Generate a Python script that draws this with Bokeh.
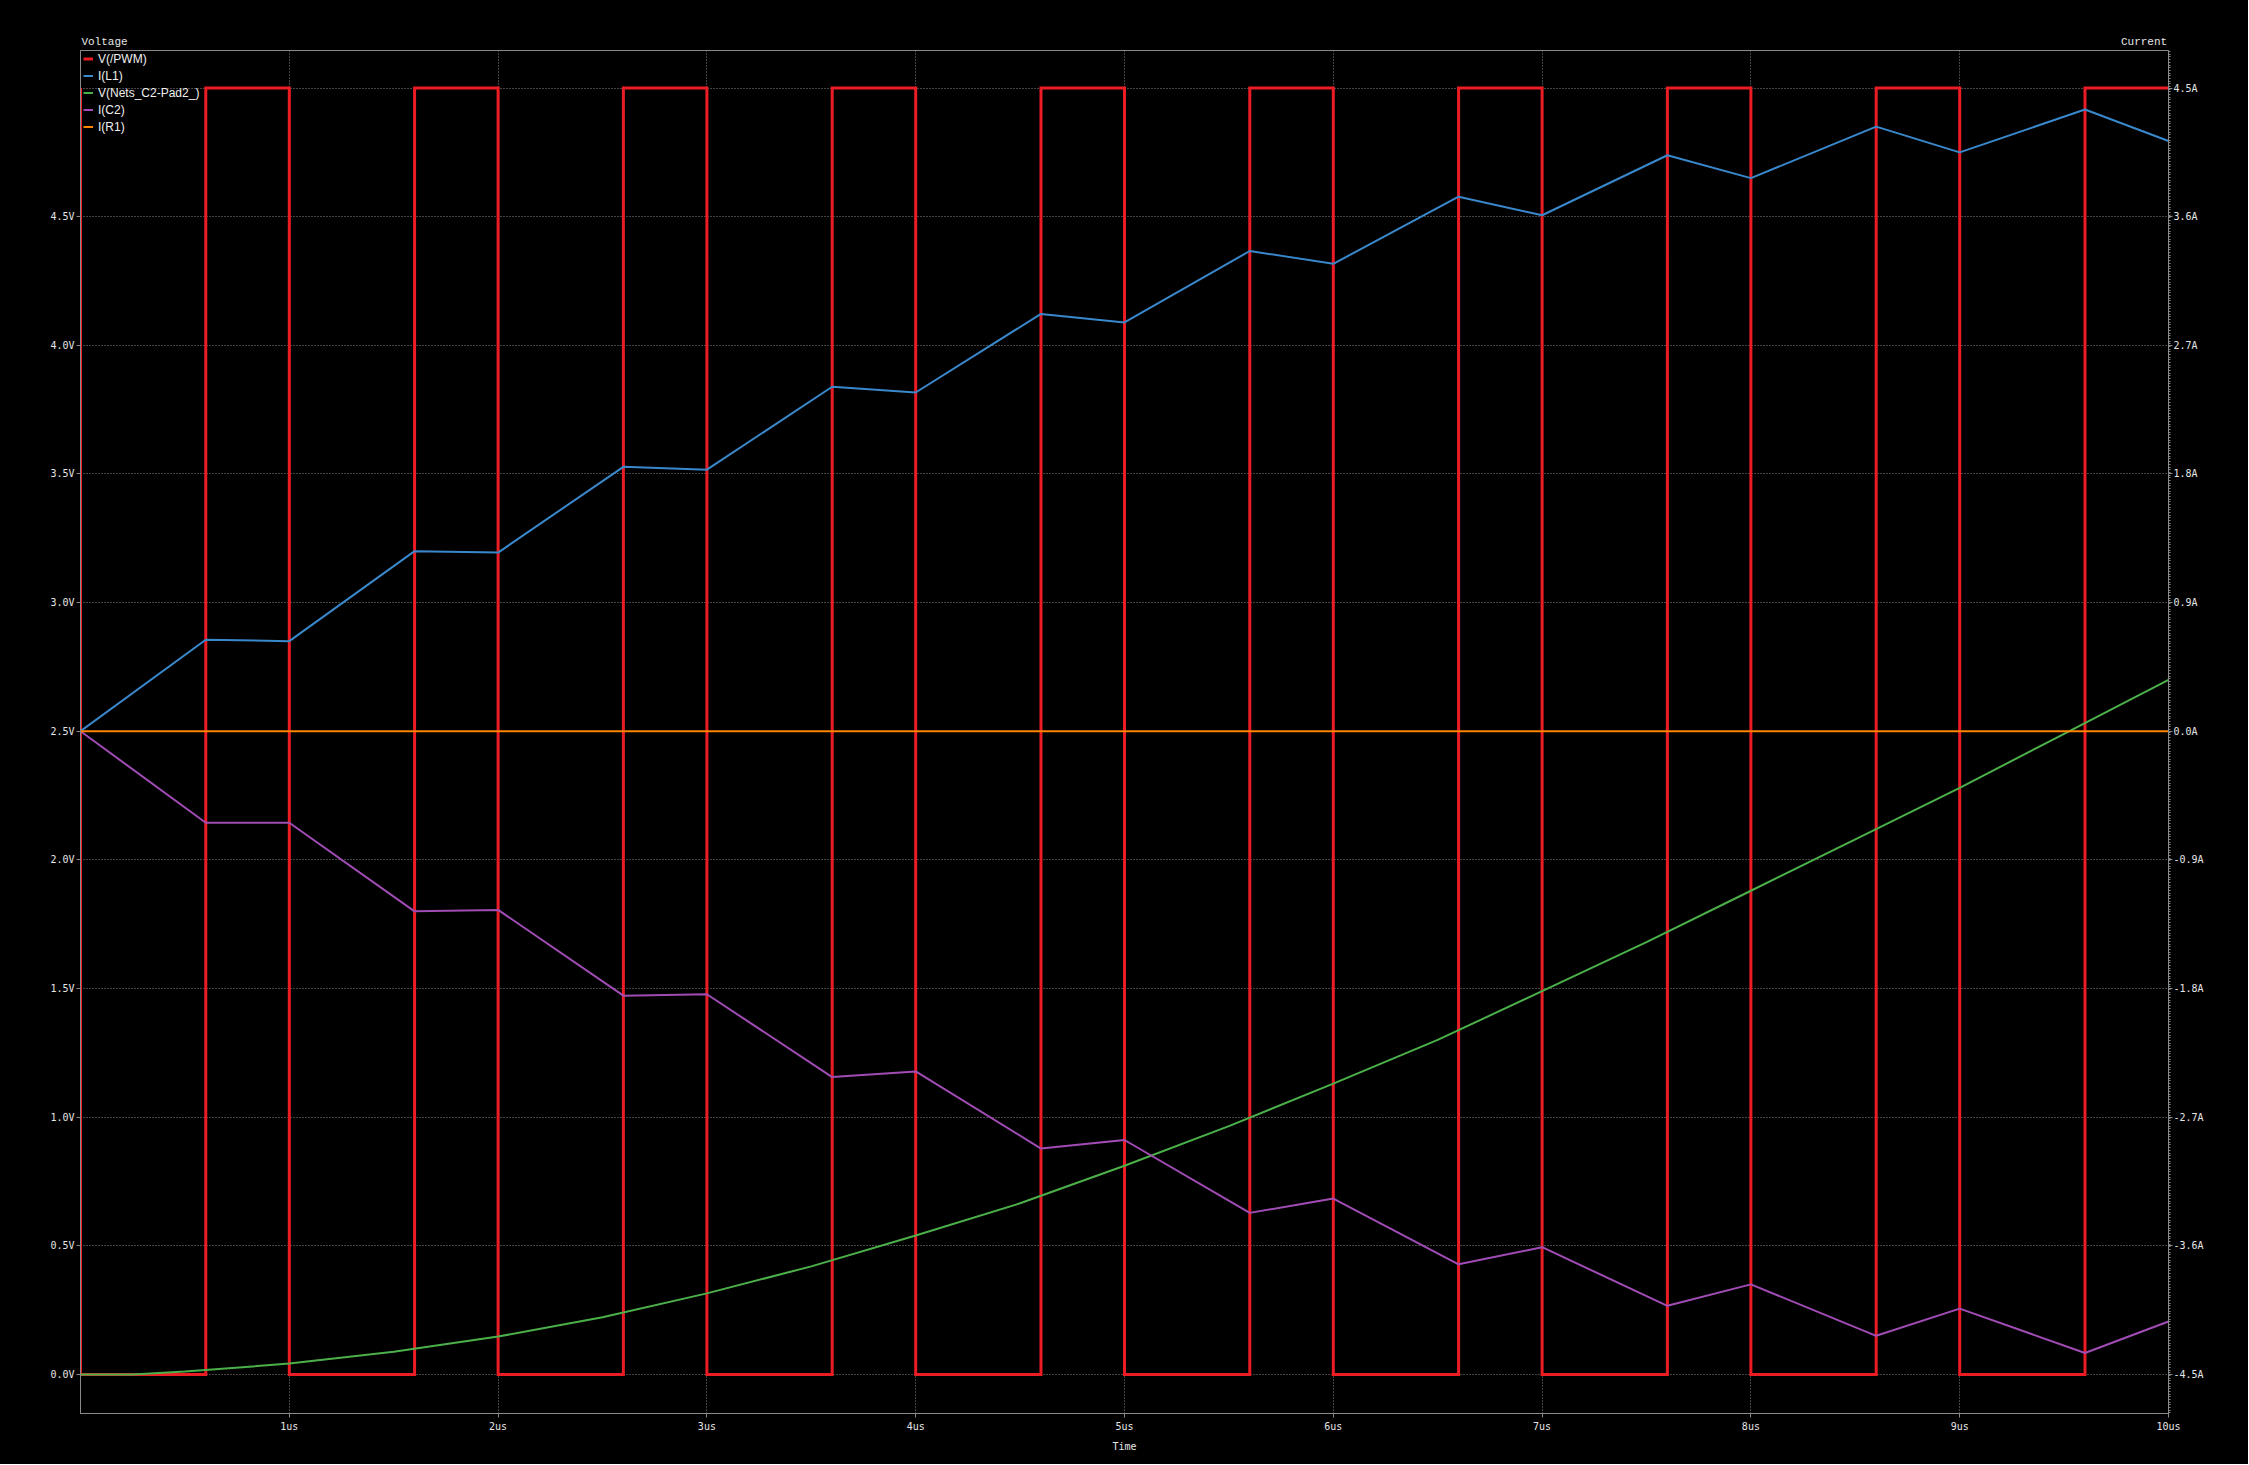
from bokeh.plotting import figure
from bokeh.models import (Range1d, LinearAxis, FixedTicker, PrintfTickFormatter,
                          Legend, LegendItem)
from bokeh.embed import file_html
from bokeh.resources import INLINE
import numpy as np

# ---------------- data ----------------
# PWM square wave (V): starts at 5 V at t=0, then edges
pwm_high = 5.0
pwm_low = 0.0
pwm_rise = [0.6, 1.6, 2.6, 3.6, 4.6, 5.6, 6.6, 7.6, 8.6, 9.6]
pwm_fall = [1.0, 2.0, 3.0, 4.0, 5.0, 6.0, 7.0, 8.0, 9.0]

# inductor / capacitor currents (A) at switching instants
t_sw = [0.0, 0.6, 1.0, 1.6, 2.0, 2.6, 3.0, 3.6, 4.0, 4.6, 5.0,
        5.6, 6.0, 6.6, 7.0, 7.6, 8.0, 8.6, 9.0, 9.6, 10.0]
i_l1 = [0.0, 0.64, 0.63, 1.26, 1.25, 1.85, 1.83, 2.41, 2.37, 2.92, 2.86,
        3.36, 3.27, 3.74, 3.61, 4.03, 3.87, 4.23, 4.05, 4.35, 4.13]
i_c2 = [0.0, -0.64, -0.64, -1.26, -1.25, -1.85, -1.84, -2.42, -2.38, -2.92, -2.86,
        -3.37, -3.27, -3.73, -3.61, -4.02, -3.87, -4.23, -4.04, -4.35, -4.13]

# capacitor node voltage (V)
t_v = [0.0, 0.25, 0.5, 1.0, 1.5, 2.0, 2.5, 3.0, 3.5, 4.0, 4.5, 5.0,
       5.5, 6.0, 6.5, 7.0, 7.5, 8.0, 8.5, 9.0, 9.5, 10.0]
v_c2 = [0.0, 0.0, 0.011, 0.042, 0.088, 0.147, 0.222, 0.315, 0.42, 0.54, 0.665, 0.811,
        0.965, 1.13, 1.30, 1.49, 1.68, 1.88, 2.08, 2.28, 2.49, 2.70]

# resistor current (A)
t_r1 = [0.0, 10.0]
i_r1 = [0.0, 0.0]

# tick labels
x_ticks = [1, 2, 3, 4, 5, 6, 7, 8, 9, 10]
v_ticks = [0.0, 0.5, 1.0, 1.5, 2.0, 2.5, 3.0, 3.5, 4.0, 4.5]
grid_v = [0.0, 0.5, 1.0, 1.5, 2.0, 2.5, 3.0, 3.5, 4.0, 4.5, 5.0]
a_ticks = [-4.5, -3.6, -2.7, -1.8, -0.9, 0.0, 0.9, 1.8, 2.7, 3.6, 4.5]
axis_titles = {0.115: "Voltage", 9.883: "Current"}

# build PWM step polyline
pwm_t = [0.0, 0.0]
pwm_v = [pwm_high, pwm_low]
for k, r in enumerate(pwm_rise):
    pwm_t += [r, r]
    pwm_v += [pwm_low, pwm_high]
    if k < len(pwm_fall):
        f = pwm_fall[k]
        pwm_t += [f, f]
        pwm_v += [pwm_high, pwm_low]
pwm_t.append(10.0)
pwm_v.append(pwm_high)

# ---------------- figure ----------------
V_MIN, V_MAX = -0.152, 5.146
A_MIN, A_MAX = (V_MIN - 2.5) * 1.8, (V_MAX - 2.5) * 1.8

W, H = 2248, 1464
p = figure(width=W, height=H, output_backend="svg", toolbar_location=None,
           x_range=Range1d(0, 10), y_range=Range1d(V_MIN, V_MAX),
           min_border_left=80, min_border_right=W - 2168,
           min_border_top=50, min_border_bottom=H - 1413)
p.title = None
p.extra_y_ranges = {"cur": Range1d(A_MIN, A_MAX)}
p.background_fill_color = "black"
p.border_fill_color = "black"
p.styles = {"background-color": "black"}
p.outline_line_color = "#8a8a8a"
p.outline_line_width = 1

GRID = "#8a8a8a"
TXT = "#e6e6e6"
TICK_FONT = "DejaVu Sans Mono"

# x axis
xa = p.xaxis[0]
xa.ticker = FixedTicker(ticks=x_ticks)
xa.formatter = PrintfTickFormatter(format="%dus")
xa.axis_line_color = GRID
xa.major_tick_line_color = GRID
xa.major_tick_out = 4
xa.major_tick_in = 0
xa.minor_tick_line_color = None
xa.major_label_text_color = TXT
xa.major_label_text_font = TICK_FONT
xa.major_label_text_font_size = "10px"
xa.major_label_standoff = 3
xa.axis_label = "Time"
xa.axis_label_text_color = TXT
xa.axis_label_text_font = TICK_FONT
xa.axis_label_text_font_size = "10px"
xa.axis_label_text_font_style = "normal"
xa.axis_label_standoff = 6

# left axis
ya = p.yaxis[0]
ya.ticker = FixedTicker(ticks=v_ticks)
ya.formatter = PrintfTickFormatter(format="%.1fV")
ya.axis_line_color = GRID
ya.major_tick_line_color = GRID
ya.major_tick_out = 4
ya.major_tick_in = 0
ya.minor_tick_line_color = None
ya.major_label_text_color = TXT
ya.major_label_text_font = TICK_FONT
ya.major_label_text_font_size = "10px"
ya.major_label_standoff = 2

# right axis
minor = list(np.round(np.arange(-4.77, 4.77, 0.9 / 48), 4))
ra = LinearAxis(y_range_name="cur",
                ticker=FixedTicker(ticks=a_ticks, minor_ticks=minor),
                formatter=PrintfTickFormatter(format="%.1fA"))
ra.axis_line_color = GRID
ra.major_tick_line_color = GRID
ra.major_tick_out = 4
ra.major_tick_in = 0
ra.minor_tick_line_color = GRID
ra.minor_tick_out = 2
ra.minor_tick_in = 0
ra.major_label_text_color = TXT
ra.major_label_text_font = TICK_FONT
ra.major_label_text_font_size = "10px"
ra.major_label_standoff = 1
p.add_layout(ra, "right")

# top "axis" carrying the two axis titles (Voltage / Current)
ta = LinearAxis(ticker=FixedTicker(ticks=list(axis_titles.keys())),
                major_label_overrides=axis_titles)
ta.axis_line_color = None
ta.major_tick_line_color = None
ta.minor_tick_line_color = None
ta.major_tick_out = 0
ta.major_tick_in = 0
ta.major_label_standoff = 3
ta.major_label_text_color = TXT
ta.major_label_text_font = "Liberation Mono"
ta.major_label_text_font_size = "11px"
p.add_layout(ta, "above")

# grids
p.xgrid.ticker = FixedTicker(ticks=x_ticks)
p.ygrid.ticker = FixedTicker(ticks=grid_v)
for g in (p.xgrid[0], p.ygrid[0]):
    g.grid_line_color = GRID
    g.grid_line_dash = "1 2"
    g.grid_line_width = 1

# ---------------- series ----------------
r_pwm = p.line(pwm_t, pwm_v, line_color="#ec1c24", line_width=3, line_join="miter")
r_l1 = p.line(t_sw, i_l1, y_range_name="cur", line_color="#3a88cc", line_width=2)
r_v = p.line(t_v, v_c2, line_color="#4cb04a", line_width=2)
r_c2 = p.line(t_sw, i_c2, y_range_name="cur", line_color="#a04cb4", line_width=2)
r_r1 = p.line(t_r1, i_r1, y_range_name="cur", line_color="#ff8400", line_width=2)

legend = Legend(items=[
    LegendItem(label="V(/PWM)", renderers=[r_pwm]),
    LegendItem(label="I(L1)", renderers=[r_l1]),
    LegendItem(label="V(Nets_C2-Pad2_)", renderers=[r_v]),
    LegendItem(label="I(C2)", renderers=[r_c2]),
    LegendItem(label="I(R1)", renderers=[r_r1]),
], location=(3, 1278))
legend.label_text_color = "#f0f0f0"
legend.label_text_font = "Liberation Sans"
legend.label_text_font_size = "12px"
legend.glyph_width = 10
legend.glyph_height = 17
legend.label_height = 17
legend.label_standoff = 5
legend.spacing = 0
legend.padding = 0
legend.margin = 0
legend.border_line_alpha = 0
legend.background_fill_alpha = 0
p.add_layout(legend)

open("out.html", "w").write(file_html(p, INLINE))
